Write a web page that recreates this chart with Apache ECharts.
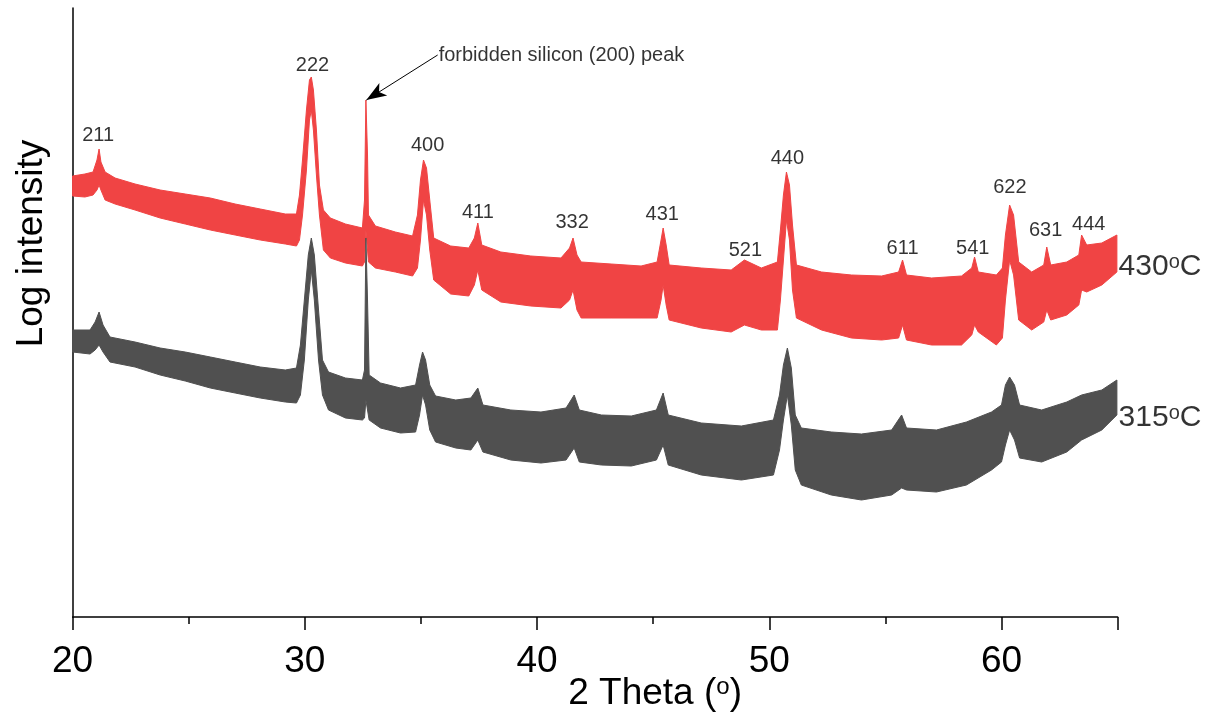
<!DOCTYPE html>
<html>
<head>
<meta charset="utf-8">
<script src="https://cdn.jsdelivr.net/npm/echarts@6/dist/echarts.min.js"></script>
<style>html,body{margin:0;padding:0;background:#fff;}#c{width:1215px;height:715px;}</style>
</head>
<body>
<div id="c"></div>
<script>
// ---- data (2θ in degrees, log intensity in arbitrary units, offset traces) ----
// 430 °C trace: upper / lower edge of the noisy band
const x430 = [20.0,20.53,20.88,21.05,21.14,21.22,21.4,21.83,22.69,23.77,24.85,25.93,27.0,28.08,29.16,29.64,29.77,29.9,30.07,30.2,30.28,30.37,30.5,30.63,30.8,31.1,31.75,32.48,32.57,32.63,32.7,32.74,33.04,33.9,34.64,34.85,34.98,35.11,35.24,35.38,35.55,36.28,37.06,37.3,37.45,37.62,38.44,39.73,41.03,41.4,41.55,41.72,41.9,43.19,44.48,45.17,45.34,45.43,45.56,45.69,47.07,48.36,48.93,49.66,50.35,50.48,50.61,50.74,50.87,51.0,51.17,52.25,53.54,54.84,55.57,55.74,55.91,56.99,58.28,58.72,58.84,59.0,59.78,60.04,60.17,60.35,60.52,60.74,61.3,61.82,61.95,62.12,62.81,63.33,63.45,63.67,64.32,64.97];
const hi430 = [441,443,445,457,468,455,445,439,433,427,423,419,413,408,403,403,422,457,507,537,540,527,487,432,407,399,393,389,417,517,462,402,391,385,381,402,437,457,449,417,379,371,369,379,394,372,365,361,359,369,379,362,355,353,351,355,377,389,372,352,349,347,357,349,355,387,422,445,432,392,352,345,342,341,345,357,342,339,341,349,360,345,342,349,382,412,402,355,345,352,370,352,355,362,382,372,374,382];
const lo430 = [421,420,422,427,432,427,417,413,407,399,393,387,382,377,373,371,377,402,447,497,507,487,442,402,367,359,354,351,355,387,367,355,349,345,341,349,377,417,402,367,337,323,321,332,347,327,315,311,309,317,327,307,299,299,299,299,317,332,312,297,289,285,292,287,287,317,357,397,377,327,299,287,279,277,279,292,277,272,272,282,292,285,272,279,317,357,342,297,287,295,307,297,302,312,327,325,332,345];
// 315 °C trace
const x315 = [20.0,20.75,20.97,21.14,21.31,21.61,22.69,23.77,24.85,25.93,27.0,28.08,29.16,29.64,29.81,29.98,30.15,30.28,30.41,30.59,30.76,31.02,31.75,32.48,32.57,32.63,32.7,32.77,33.26,34.12,34.77,34.94,35.07,35.2,35.38,35.63,36.5,37.15,37.45,37.67,38.87,40.17,41.25,41.6,41.82,42.77,44.06,45.14,45.43,45.65,47.07,48.8,50.18,50.44,50.61,50.78,50.95,51.12,51.38,52.67,53.97,55.27,55.7,55.91,57.2,58.49,59.57,60.0,60.17,60.35,60.56,60.78,61.73,62.81,63.45,64.32,64.97];
const hi315 = [287,287,295,305,292,280,275,269,265,260,255,250,247,249,272,317,362,379,362,307,257,245,239,237,247,379,317,242,234,229,232,252,265,257,232,221,217,219,229,212,207,205,209,222,207,202,201,207,224,202,194,191,197,222,252,269,249,202,189,185,183,187,202,189,187,195,205,212,232,240,232,212,207,215,222,227,237];
const lo315 = [265,263,267,272,265,255,250,242,236,229,224,219,215,214,222,257,317,347,317,257,222,207,199,197,199,217,207,197,189,184,185,202,222,212,187,175,169,167,177,165,157,154,157,169,155,152,151,157,172,152,142,137,142,167,197,222,192,147,132,122,117,122,129,127,125,132,147,155,172,187,177,159,155,165,177,187,202];
// reflection labels
const peakText = ['211','222','400','411','332','431','521','440','611','541','622','631','444'];
const peakX    = [21.10,30.33,35.29,37.45,41.51,45.39,48.97,50.78,55.74,58.76,60.36,61.90,63.76];
const peakY    = [482,552,472,405,395,403,367,459,369,369,430,387,393];
// annotation: forbidden Si (200)
const noteText = 'forbidden silicon (200) peak';
const noteFrom = [35.72, 562];
const noteTo   = [32.65, 517];
// trace names
const traceTemp = ['430','315'];
const traceLabelPos = [[65, 350],[65, 199]];

const xTicks = {min: 20, max: 65, interval: 10};

const RED = '#f04444', GRAY = '#505050';
const FONT = '"Liberation Sans", Arial, sans-serif';

function band(xs, hi, lo, color){
  return {
    type: 'custom',
    coordinateSystem: 'cartesian2d',
    data: xs.map((x,i)=>[x, hi[i], lo[i]]),
    encode: {x: 0, y: [1, 2]},
    silent: true,
    renderItem: function(params, api){
      if (params.dataIndex !== 0) return null;
      const pts = [];
      for (let i = 0; i < xs.length; i++) pts.push(api.coord([xs[i], hi[i]]));
      for (let i = xs.length - 1; i >= 0; i--) pts.push(api.coord([xs[i], lo[i]]));
      return {type: 'polygon', shape: {points: pts}, style: {fill: color, stroke: color, lineWidth: 1}};
    }
  };
}

const chart = echarts.init(document.getElementById('c'), null, {renderer: 'canvas'});
chart.setOption({
  animation: false,
  backgroundColor: '#fff',
  grid: {left: 72.6, right: 97.4, top: 8, bottom: 98, containLabel: false, outerBoundsMode: 'none'},
  xAxis: {
    type: 'value', min: xTicks.min, max: xTicks.max, interval: xTicks.interval,
    axisLine: {show: true, lineStyle: {color: '#000', width: 1.5}},
    axisTick: {show: true, inside: false, length: 13, lineStyle: {color: '#000', width: 1.5}},
    minorTick: {show: true, splitNumber: 2, length: 7, lineStyle: {color: '#000', width: 1.5}},
    splitLine: {show: false},
    axisLabel: {fontSize: 37, color: '#000', fontFamily: FONT, margin: 26, showMaxLabel: false},
    name: '{a|2 Theta (}{s|o}{a|)}',
    nameLocation: 'middle', nameGap: 58, nameMoveOverlap: false,
    nameTextStyle: {color: '#000', fontFamily: FONT, padding: [0,0,0,120],
      rich: {a: {fontSize: 37, fontFamily: FONT, color: '#000'}, s: {fontSize: 24, fontFamily: FONT, color: '#000', padding: [0,0,14,0]}}}
  },
  yAxis: {
    type: 'value', min: 0, max: 609,
    axisLine: {show: true, lineStyle: {color: '#000', width: 1.5}},
    axisTick: {show: false}, axisLabel: {show: false}, splitLine: {show: false},
    name: 'Log intensity', nameLocation: 'middle', nameGap: 22,
    nameTextStyle: {fontSize: 37, color: '#000', fontFamily: FONT, padding: [0,0,0,138]}
  },
  series: [
    band(x430, hi430, lo430, RED),
    band(x315, hi315, lo315, GRAY),
    {
      type: 'scatter', symbolSize: 0, silent: true, z: 5,
      data: peakX.map((x,i)=>[x, peakY[i], peakText[i]]),
      label: {show: true, position: 'inside', formatter: p => p.value[2], fontSize: 20, color: '#000', fontFamily: FONT}
    },
    {
      type: 'scatter', symbolSize: 0, silent: true, z: 5, clip: false,
      data: traceLabelPos.map((p,i)=>[p[0], p[1], traceTemp[i]]),
      label: {show: true, position: 'right', distance: 1,
        formatter: p => '{a|' + p.value[2] + '}{s|o}{a|C}',
        rich: {a: {fontSize: 30, fontFamily: FONT, color: '#000'}, s: {fontSize: 20, fontFamily: FONT, color: '#000', padding: [0,0,10,0]}}}
    },
    {
      type: 'scatter', symbolSize: 0, silent: true, z: 5,
      data: [[noteFrom[0], noteFrom[1], noteText]],
      label: {show: true, position: 'right', distance: 1, formatter: p => p.value[2], fontSize: 20, color: '#000', fontFamily: FONT},
      markLine: {
        silent: true, symbol: ['none', 'arrow'], symbolSize: [11, 20],
        label: {show: false},
        lineStyle: {color: '#000', width: 1, type: 'solid'},
        itemStyle: {color: '#000'},
        data: [[{coord: noteFrom}, {coord: noteTo}]]
      }
    }
  ]
});
</script>
</body>
</html>
